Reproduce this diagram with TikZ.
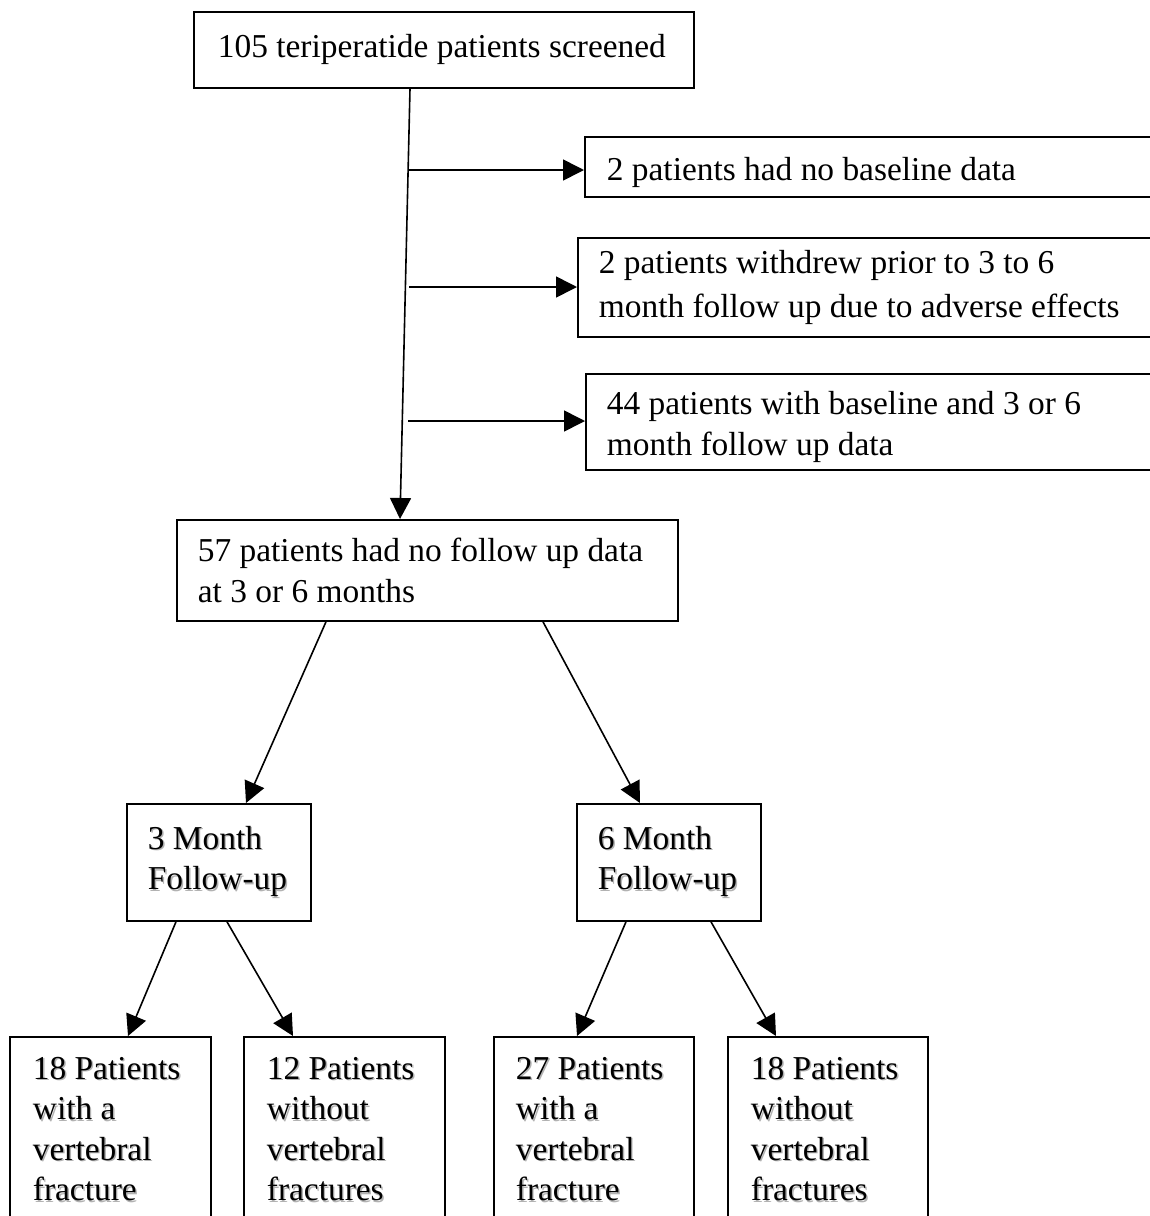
\documentclass[tikz,border=0pt]{standalone}
\usepackage{fontspec}
\setmainfont{Liberation Serif}
\usetikzlibrary{arrows.meta,calc}
\newcommand\shtxt[1]{\leavevmode\rlap{\kern1.4pt\raisebox{-1.4pt}{\color{black!30}#1}}#1}
\newcommand\dropstrut[1]{\rule{0pt}{#1}}
\begin{document}
\begin{tikzpicture}[x=1pt,y=-1pt,
  box/.style={draw,line width=1.8pt,anchor=north west,align=left,
    font=\fontsize{33.4}{40.5}\selectfont,inner ysep=0pt,
    execute at begin node={\spaceskip=0pt\xspaceskip=0pt}},
  arr/.style={line width=1.6pt,-{Triangle[length=21pt,width=21pt]}}]
\clip (0,0) rectangle (1150,1216);
\fill[white] (0,0) rectangle (1150,1216);

\node[box,minimum height=76pt,inner xsep=24pt,text width=452pt] (top) at (193,11)
  {105 teriperatide patients screened};
\node[box,minimum height=60pt,inner xsep=22pt,text width=522pt] (b2) at (584,136)
  {\dropstrut{34pt}2 patients had no baseline data};
\node[box,minimum height=99pt,inner xsep=21pt,text width=531pt] (b3) at (577,237)
  {2 patients withdrew prior to 3 to 6\\[3pt]month follow up due to adverse effects};
\node[box,minimum height=96pt,inner xsep=21pt,text width=523pt] (b4) at (585,373)
  {\dropstrut{33pt}44 patients with baseline and 3 or 6\\month follow up data};
\node[box,minimum height=101pt,inner xsep=21pt,text width=459pt] (b5) at (176,519)
  {57 patients had no follow up data\\at 3 or 6 months};
\node[box,minimum height=117pt,inner xsep=21pt,text width=142pt] (b6) at (126,803)
  {\shtxt{3 Month}\\\shtxt{Follow-up}};
\node[box,minimum height=117pt,inner xsep=21pt,text width=142pt] (b7) at (576,803)
  {\shtxt{6 Month}\\\shtxt{Follow-up}};
\node[box,minimum height=186pt,inner xsep=23pt,text width=155pt] (bl1) at (9,1036)
  {\shtxt{18 Patients}\\\shtxt{with a}\\\shtxt{vertebral}\\\shtxt{fracture}};
\node[box,minimum height=186pt,inner xsep=23pt,text width=155pt] (bl2) at (243,1036)
  {\shtxt{12 Patients}\\\shtxt{without}\\\shtxt{vertebral}\\\shtxt{fractures}};
\node[box,minimum height=186pt,inner xsep=22pt,text width=156pt] (bl3) at (493,1036)
  {\shtxt{27 Patients}\\\shtxt{with a}\\\shtxt{vertebral}\\\shtxt{fracture}};
\node[box,minimum height=186pt,inner xsep=23pt,text width=154pt] (bl4) at (727,1036)
  {\shtxt{18 Patients}\\\shtxt{without}\\\shtxt{vertebral}\\\shtxt{fractures}};

% main vertical line
\draw[arr] ([xshift=217pt]top.south west) -- ([xshift=224pt]b5.north west);
% side branches
\coordinate (h1) at (409,170);
\coordinate (h2) at (409,287);
\coordinate (h3) at (408,421);
\draw[arr] (h1) -- (h1 -| b2.west);
\draw[arr] (h2) -- (h2 -| b3.west);
\draw[arr] (h3) -- (h3 -| b4.west);
% tree
\draw[arr] ([xshift=150pt]b5.south west) -- ([xshift=120pt]b6.north west);
\draw[arr] ([xshift=367pt]b5.south west) -- ([xshift=64pt]b7.north west);
\draw[arr] ([xshift=50pt]b6.south west) -- ([xshift=119pt]bl1.north west);
\draw[arr] ([xshift=101pt]b6.south west) -- ([xshift=50pt]bl2.north west);
\draw[arr] ([xshift=50pt]b7.south west) -- ([xshift=84pt]bl3.north west);
\draw[arr] ([xshift=135pt]b7.south west) -- ([xshift=49pt]bl4.north west);
\end{tikzpicture}
\end{document}
